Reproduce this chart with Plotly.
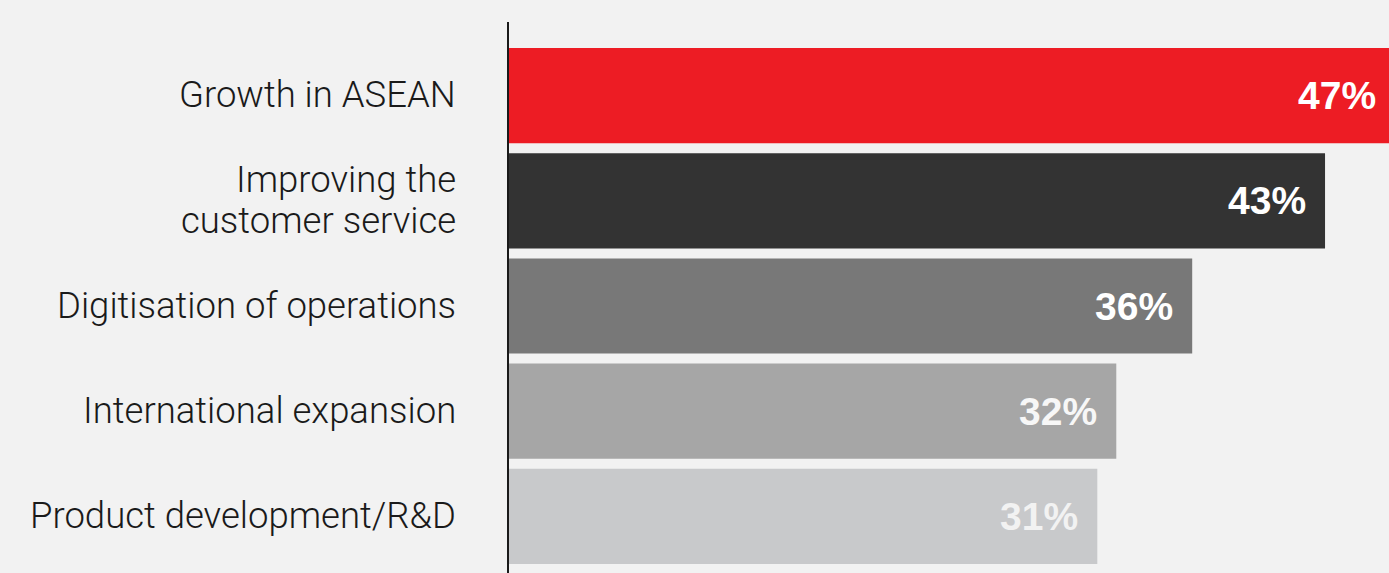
import plotly.graph_objects as go

# Survey results: share of respondents naming each priority
categories = [
    "Growth in ASEAN",
    "Improving the<br>customer service",
    "Digitisation of operations",
    "International expansion",
    "Product development/R&D",
]
values = [47, 43, 36, 32, 31]
bar_colors = ["#ed1c24", "#333333", "#787878", "#a6a6a6", "#c8c9cb"]
value_text_colors = ["#ffffff", "#ffffff", "#ffffff", "#f7f7f7", "#f2f2f2"]

X_MAX = 46.37          # visible end of the value axis; the top bar runs past it
BG = "#f2f2f2"
LABEL_FONT = dict(family="Roboto", size=36.5, color="#1a1a1a", weight=300)
VALUE_FONT = dict(family="Liberation Sans", size=39, color="#ffffff", weight="bold")
LINE_GAP = 40.6        # px between lines of a wrapped category label

y_idx = list(range(len(categories)))

fig = go.Figure(
    go.Bar(
        x=values,
        y=y_idx,
        orientation="h",
        width=0.905,
        marker=dict(color=bar_colors, line=dict(width=0)),
        hoverinfo="skip",
    )
)

annotations = []
# value labels inside the bar ends
for i, (v, c) in enumerate(zip(values, value_text_colors)):
    clipped = v > X_MAX
    annotations.append(dict(
        x=min(v, X_MAX), y=i, xref="x", yref="y",
        text=f"{v}%", showarrow=False,
        xanchor="right", yanchor="middle",
        xshift=-11 if clipped else -17, yshift=0,
        font={**VALUE_FONT, "color": c},
    ))

# category labels to the left of the axis line
for i, cat in enumerate(categories):
    lines = cat.split("<br>")
    n = len(lines)
    for j, line in enumerate(lines):
        annotations.append(dict(
            x=0, y=i, xref="x", yref="y",
            text=line, showarrow=False,
            xanchor="right", yanchor="middle",
            xshift=-51,
            yshift=1 - (j - (n - 1) / 2) * LINE_GAP,
            font=LABEL_FONT,
        ))

fig.update_layout(
    width=1389, height=573,
    margin=dict(l=509, r=0, t=22, b=0),
    paper_bgcolor=BG, plot_bgcolor=BG,
    showlegend=False,
    annotations=annotations,
    xaxis=dict(range=[0, X_MAX], visible=False, fixedrange=True),
    yaxis=dict(
        range=[4.538, -0.7],
        showticklabels=False, ticks="",
        showgrid=False, zeroline=False,
        showline=True, linecolor="#1a1a1a", linewidth=2,
        fixedrange=True,
    ),
)

fig.write_html("out.html", config={"displayModeBar": False})
